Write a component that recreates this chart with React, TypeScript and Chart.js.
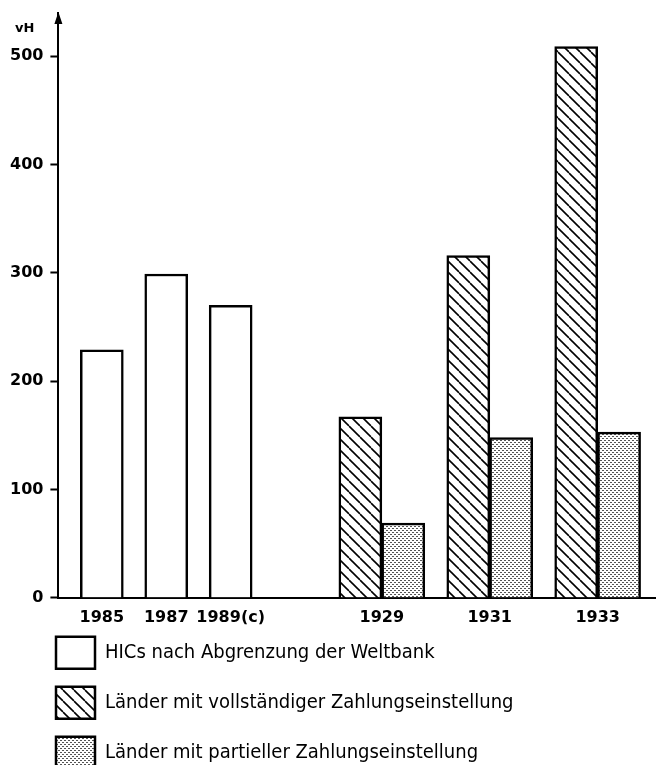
import React, { useEffect, useRef } from "react";
import { Chart, registerables } from "chart.js";

Chart.register(...registerables);

// ---- data ----
const leftYears = ["1985", "1987", "1989(c)"];
const rightYears = ["1929", "1931", "1933"];
const hicValues = [229, 299, 270];
const fullDefaultValues = [167, 316, 509];
const partialDefaultValues = [69, 148, 153];
const yTickValues = [0, 100, 200, 300, 400, 500];
const seriesLabels = [
  "HICs nach Abgrenzung der Weltbank",
  "Länder mit vollständiger Zahlungseinstellung",
  "Länder mit partieller Zahlungseinstellung",
];
const unitLabel = "vH";

// ---- layout (positions along the linear x scale) ----
const LEFT_START = 0.674;
const LEFT_STEP = 1;
const RIGHT_START = 5.02;
const RIGHT_STEP = 1.675;
const HALF_BAR = 0.333;
const X_MAX = 9.4;
const Y_MAX = 540;
const Y_TICK_PADDING = 7;

const leftPos = (i: number) => LEFT_START + i * LEFT_STEP;
const rightPos = (i: number) => RIGHT_START + i * RIGHT_STEP;

const FONT = "'DejaVu Sans', sans-serif";
const LEGEND_FONT = "'DejaVu Sans Condensed', 'DejaVu Sans', sans-serif";

function makeHatch(): CanvasPattern | string {
  const s = 11;
  const c = document.createElement("canvas");
  c.width = s;
  c.height = s;
  const g = c.getContext("2d");
  if (!g) return "#fff";
  g.fillStyle = "#fff";
  g.fillRect(0, 0, s, s);
  g.strokeStyle = "#000";
  g.lineWidth = 1.6;
  for (const k of [-s, 0, s]) {
    g.beginPath();
    g.moveTo(k, 0);
    g.lineTo(k + s, s);
    g.stroke();
  }
  return g.createPattern(c, "repeat") || "#fff";
}

function makeDots(): CanvasPattern | string {
  const c = document.createElement("canvas");
  c.width = 4;
  c.height = 4;
  const g = c.getContext("2d");
  if (!g) return "#ccc";
  g.fillStyle = "#fff";
  g.fillRect(0, 0, 4, 4);
  g.fillStyle = "#555";
  g.fillRect(0, 0, 2, 1);
  g.fillRect(2, 2, 2, 1);
  return g.createPattern(c, "repeat") || "#ccc";
}

const zeroPad = (scale: any) => {
  scale.paddingTop = 0;
  scale.paddingBottom = 0;
  scale.paddingLeft = 0;
  scale.paddingRight = 0;
};

const decorPlugin = {
  id: "decor",
  afterLayout(chart: any) {
    const lg = chart.legend;
    if (lg) {
      const dx = 30 - lg.left;
      lg.left += dx;
      lg.right += dx;
      const dy = chart.chartArea.bottom + 21 - lg.top;
      lg.top += dy;
      lg.bottom += dy;
    }
  },
  afterDraw(chart: any) {
    const { ctx, chartArea } = chart;
    const x = chartArea.left;
    const top = chartArea.top;
    ctx.save();
    ctx.fillStyle = "#000";
    ctx.beginPath();
    ctx.moveTo(x, top - 1);
    ctx.lineTo(x - 4, top + 11);
    ctx.lineTo(x + 4, top + 11);
    ctx.closePath();
    ctx.fill();
    ctx.font = `bold 13px ${FONT}`;
    ctx.textAlign = "right";
    ctx.textBaseline = "middle";
    ctx.fillText(unitLabel, x - 24, top + 16);
    ctx.restore();
  },
};

export default function App() {
  const ref = useRef<HTMLCanvasElement | null>(null);

  useEffect(() => {
    if (!ref.current) return;
    const hatch = makeHatch();
    const dots = makeDots();
    const xTickPositions = [
      ...leftYears.map((_, i) => leftPos(i)),
      ...rightYears.map((_, i) => rightPos(i)),
    ];
    const xTickLabels = [...leftYears, ...rightYears];

    const chart = new Chart(ref.current, {
      type: "bar",
      data: {
        datasets: [
          {
            label: seriesLabels[0],
            data: leftYears.map((_, i) => ({ x: leftPos(i), y: hicValues[i] })),
            backgroundColor: "#ffffff",
            borderColor: "#000000",
            borderWidth: 2.5,
            grouped: false,
            barThickness: 43,
          },
          {
            label: seriesLabels[1],
            data: rightYears.map((_, i) => ({ x: rightPos(i) - HALF_BAR, y: fullDefaultValues[i] })),
            backgroundColor: hatch as any,
            borderColor: "#000000",
            borderWidth: 2.5,
            grouped: false,
            barThickness: 43,
          },
          {
            label: seriesLabels[2],
            data: rightYears.map((_, i) => ({ x: rightPos(i) + HALF_BAR, y: partialDefaultValues[i] })),
            backgroundColor: dots as any,
            borderColor: "#000000",
            borderWidth: 2.5,
            grouped: false,
            barThickness: 43,
          },
        ] as any,
      },
      options: {
        animation: false,
        responsive: false,
        layout: { padding: { top: 5, bottom: 7, left: 2, right: -9 } },
        plugins: {
          tooltip: { enabled: false },
          legend: {
            position: "bottom",
            align: "start",
            fullSize: false,
            labels: {
              boxWidth: 39,
              boxHeight: 32,
              padding: 18,
              color: "#000",
              font: { family: LEGEND_FONT, size: 20 },
            },
          },
        },
        scales: {
          x: {
            type: "linear",
            offset: false,
            min: 0,
            max: X_MAX,
            grid: { display: false, drawTicks: false, offset: false },
            border: { display: true, color: "#000", width: 2 },
            afterBuildTicks: (scale: any) => {
              scale.ticks = xTickPositions.map((value) => ({ value }));
            },
            afterFit: zeroPad,
            ticks: {
              autoSkip: false,
              maxRotation: 0,
              padding: 10,
              color: "#000",
              font: { family: FONT, size: 16, weight: "bold" },
              callback: (_v: any, index: number) => xTickLabels[index],
            },
          },
          y: {
            type: "linear",
            min: 0,
            max: Y_MAX,
            grid: {
              display: true,
              drawOnChartArea: false,
              drawTicks: true,
              tickLength: 8,
              tickWidth: 2,
              tickColor: "#000",
            },
            border: { display: true, color: "#000", width: 2 },
            afterBuildTicks: (scale: any) => {
              scale.ticks = yTickValues.map((value) => ({ value }));
            },
            afterFit: (scale: any) => {
              zeroPad(scale);
              scale.width -= Y_TICK_PADDING;
            },
            ticks: {
              padding: Y_TICK_PADDING,
              color: "#000",
              font: { family: FONT, size: 16, weight: "bold" },
              callback: (v: any) => String(v),
            },
          },
        },
      } as any,
      plugins: [decorPlugin],
    });
    return () => chart.destroy();
  }, []);

  return (
    <div style={{ width: 656, height: 796 }}>
      <style>{"html, body { overflow: hidden; }"}</style>
      <canvas ref={ref} width={656} height={796} style={{ display: "block" }} />
    </div>
  );
}
